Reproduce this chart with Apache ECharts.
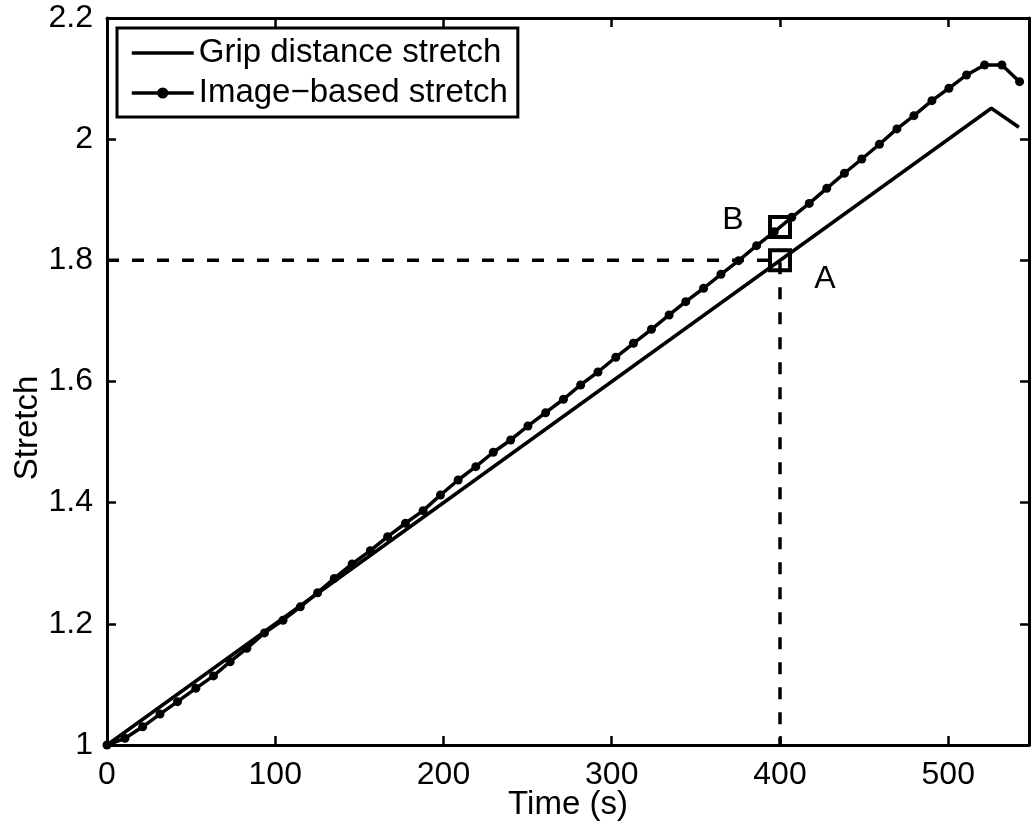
<!DOCTYPE html>
<html>
<head>
<meta charset="utf-8">
<script src="https://cdn.jsdelivr.net/npm/echarts@6/dist/echarts.min.js"></script>
<style>
  html, body { margin: 0; padding: 0; background: #fff; }
  #chart { width: 1031px; height: 831px; }
</style>
</head>
<body>
<div id="chart"></div>
<script>
// grip distance stretch (straight ramp, then release)
const gripTime = [0, 525.6, 542]
const gripStretch = [1, 2.051, 2.0197]

// image-based stretch, one point per frame
const imageTime = [
  0, 10.7, 21.2, 31.5, 41.9, 52.8, 63.3, 73.2, 83.1, 93.6,
  104.6, 114.9, 125.2, 135.1, 145.7, 156.5, 166.8, 177.4, 187.9, 198.2,
  208.7, 219.2, 229.6, 239.9, 250.2, 260.7, 271.3, 281.5, 291.8, 302.4,
  312.9, 323.6, 334.1, 344, 354.6, 364.9, 375.4, 386.1, 396.6, 407,
  417.4, 427.8, 438.3, 448.6, 459.1, 469.5, 479.6, 490.3, 500.4, 510.9,
  521.6, 531.9, 542.4
]
const imageStretch = [
  1, 1.011, 1.030, 1.051, 1.0715, 1.0935, 1.114, 1.1375, 1.1596, 1.185,
  1.206, 1.228, 1.2514, 1.275, 1.2988, 1.3207, 1.3439, 1.366, 1.3868, 1.4127,
  1.4374, 1.4594, 1.4832, 1.5035, 1.5266, 1.5485, 1.5707, 1.5943, 1.6157, 1.64,
  1.6631, 1.6862, 1.7098, 1.7318, 1.7539, 1.777, 1.7995, 1.8242, 1.847, 1.871,
  1.894, 1.9188, 1.9437, 1.9673, 1.9916, 2.0169, 2.0388, 2.0636, 2.084, 2.106,
  2.1225, 2.1225, 2.0949
]

// dashed guide at stretch 1.8 / t = 400 s
const guideTime = [0, 400, 400]
const guideStretch = [1.8, 1.8, 1]

// marked points A and B
const pointNames = ['A', 'B']
const pointTime = [400, 400]
const pointStretch = [1.8, 1.855]

const xTicks = { min: 0, max: 548, interval: 100 }
const yTicks = { min: 1, max: 2.2, interval: 0.2 }

const font = 'Liberation Sans, Arial, Helvetica, sans-serif'
const black = '#000'

const zip = (xs, ys) => xs.map((x, i) => [x, ys[i]])

const chart = echarts.init(document.getElementById('chart'))

function axisBase(show) {
  return {
    axisLine: { show: true, onZero: false, lineStyle: { color: black, width: 3 } },
    axisTick: { show: true, inside: true, length: 9, lineStyle: { color: black, width: 2.5 } },
    splitLine: { show: false },
    axisLabel: {
      show: show,
      color: black,
      fontSize: 32,
      fontFamily: font,
      margin: 14,
      showMaxLabel: false
    }
  }
}

const option = {
  backgroundColor: '#fff',
  animation: false,
  grid: { left: 107, right: 2, top: 18, bottom: 86, outerBoundsMode: 'none', containLabel: false },
  legend: {
    data: [
      // line only, no dot, for the grip series
      { name: 'Grip distance stretch', itemStyle: { opacity: 0 } },
      { name: 'Image\u2212based stretch' }
    ],
    orient: 'vertical',
    left: 117,
    top: 28,
    padding: [7, 10, 6, 13],
    itemWidth: 62,
    itemHeight: 14,
    itemGap: 4,
    backgroundColor: '#fff',
    borderColor: black,
    borderWidth: 3,
    borderRadius: 0,
    lineStyle: { width: 3.5 },
    textStyle: { color: black, fontSize: 33, lineHeight: 36, fontFamily: font }
  },
  xAxis: [
    Object.assign(axisBase(true), {
      type: 'value',
      position: 'bottom',
      ...xTicks,
      name: 'Time (s)',
      nameLocation: 'middle',
      nameGap: 43,
      nameMoveOverlap: false,
      nameTextStyle: { color: black, fontSize: 33, fontFamily: font }
    }),
    Object.assign(axisBase(false), { type: 'value', position: 'top', ...xTicks })
  ],
  yAxis: [
    Object.assign(axisBase(true), {
      type: 'value',
      position: 'left',
      ...yTicks,
      axisLabel: { color: black, fontSize: 32, fontFamily: font, margin: 14 }
    }),
    Object.assign(axisBase(false), { type: 'value', position: 'right', ...yTicks })
  ],
  graphic: [
    {
      type: 'text',
      x: 28,
      y: 428,
      rotation: Math.PI / 2,
      style: {
        text: 'Stretch',
        fill: black,
        font: '33px ' + font,
        align: 'center',
        verticalAlign: 'middle'
      }
    }
  ],
  series: [
    {
      name: 'guide',
      type: 'line',
      data: zip(guideTime, guideStretch),
      symbol: 'none',
      silent: true,
      lineStyle: { color: black, width: 3.5, type: [12, 13] },
      z: 1
    },
    {
      name: 'Grip distance stretch',
      type: 'line',
      data: zip(gripTime, gripStretch),
      symbol: 'none',
      lineStyle: { color: black, width: 3.5 },
      itemStyle: { color: black },
      z: 2
    },
    {
      name: 'Image\u2212based stretch',
      type: 'line',
      data: zip(imageTime, imageStretch),
      symbol: 'circle',
      symbolSize: 9,
      showAllSymbol: true,
      lineStyle: { color: black, width: 3.5 },
      itemStyle: { color: black },
      z: 3
    },
    {
      name: 'points',
      type: 'scatter',
      data: pointNames.map((n, i) => ({
        name: n,
        value: [pointTime[i], pointStretch[i]],
        label: { offset: n === 'A' ? [45, 19] : [-47, -7] }
      })),
      symbol: 'rect',
      symbolSize: 20,
      itemStyle: { color: 'rgba(0,0,0,0)', borderColor: black, borderWidth: 4, opacity: 1 },
      label: {
        show: true,
        position: 'inside',
        formatter: '{b}',
        color: black,
        fontSize: 32,
        fontFamily: font
      },
      z: 5
    }
  ]
}

chart.setOption(option)
</script>
</body>
</html>
